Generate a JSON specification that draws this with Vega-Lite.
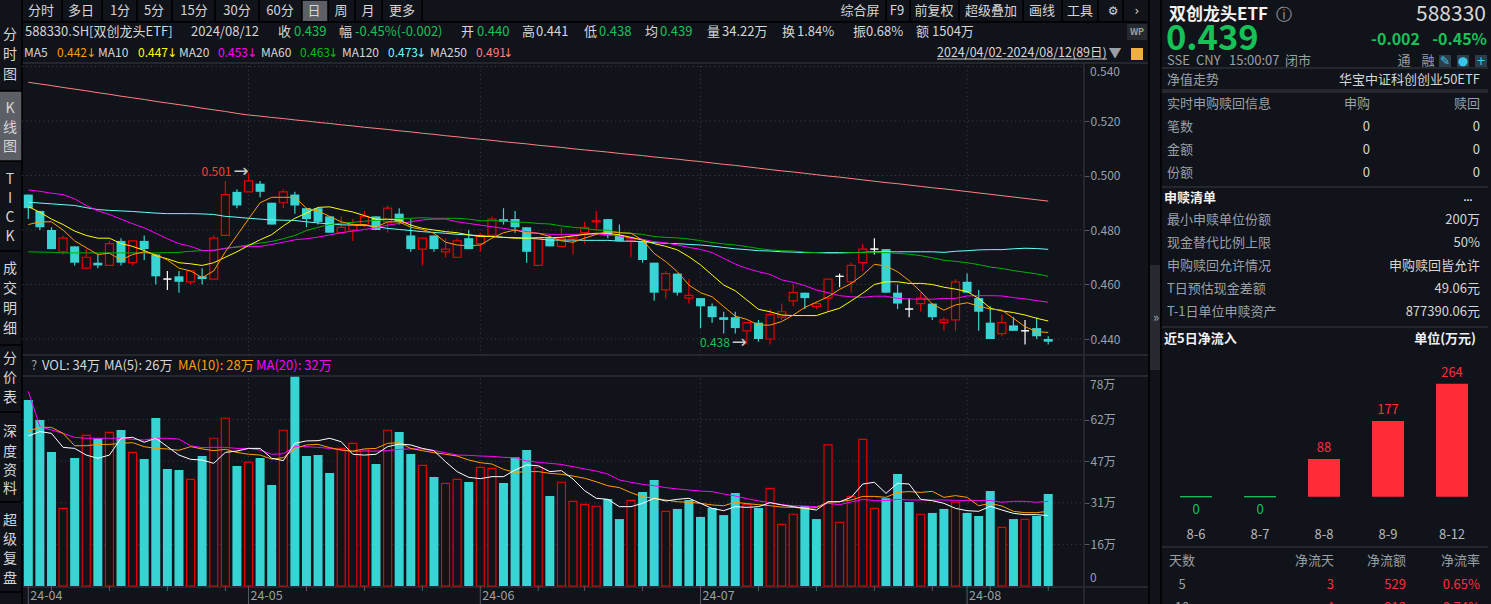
{
"$schema":"https://vega.github.io/schema/vega-lite/v6.json",
"description":"588330 daily K-line terminal view",
"width":1491,"height":604,"padding":0,"autosize":{"type":"none"},
"background":"#10131a",
"config":{"view":{"stroke":null},"text":{"font":"Noto Sans CJK SC","baseline":"middle"},"axis":{"labelFont":"Noto Sans CJK SC"}},
"datasets":{
"days":[
{"d":0,"open":0.493,"close":0.488,"high":0.493,"low":0.484,"kind":"down","ma5":0.482,"ma10":0.4886,"ma20":0.4947,"ma60":0.472,"ma120":0.4902,"ma250":0.5342,"vol":69.75,"volKind":"down","v5":56.25,"v10":58.1,"v20":73},
{"d":1,"open":0.487,"close":0.481,"high":0.487,"low":0.48,"kind":"down","ma5":0.483,"ma10":0.4865,"ma20":0.4942,"ma60":0.4719,"ma120":0.4899,"ma250":0.5336,"vol":62.25,"volKind":"down","v5":57.9,"v10":59.5,"v20":59.75},
{"d":2,"open":0.48,"close":0.473,"high":0.481,"low":0.473,"kind":"down","ma5":0.483,"ma10":0.484,"ma20":0.4935,"ma60":0.4718,"ma120":0.4896,"ma250":0.533,"vol":50.25,"volKind":"down","v5":57.25,"v10":59.5,"v20":58.5},
{"d":3,"open":0.472,"close":0.477,"high":0.478,"low":0.471,"kind":"up","ma5":0.48,"ma10":0.482,"ma20":0.493,"ma60":0.4716,"ma120":0.4893,"ma250":0.5323,"vol":29.1,"volKind":"up","v5":52,"v10":57.25,"v20":57.25},
{"d":4,"open":0.474,"close":0.468,"high":0.474,"low":0.467,"kind":"down","ma5":0.476,"ma10":0.4796,"ma20":0.4914,"ma60":0.4716,"ma120":0.489,"ma250":0.5317,"vol":48,"volKind":"down","v5":51.6,"v10":52.6,"v20":55.75},
{"d":5,"open":0.466,"close":0.47,"high":0.473,"low":0.466,"kind":"up","ma5":0.4735,"ma10":0.478,"ma20":0.489,"ma60":0.4716,"ma120":0.4882,"ma250":0.5311,"vol":56.5,"volKind":"up","v5":49.1,"v10":52.6,"v20":55.4},
{"d":6,"open":0.468,"close":0.467,"high":0.471,"low":0.466,"kind":"down","ma5":0.471,"ma10":0.477,"ma20":0.487,"ma60":0.4716,"ma120":0.4875,"ma250":0.5304,"vol":55.4,"volKind":"down","v5":47.9,"v10":53.1,"v20":55.4},
{"d":7,"open":0.467,"close":0.475,"high":0.476,"low":0.467,"kind":"up","ma5":0.4715,"ma10":0.477,"ma20":0.4857,"ma60":0.4716,"ma120":0.4872,"ma250":0.5298,"vol":57.6,"volKind":"up","v5":49.1,"v10":53.1,"v20":55.4},
{"d":8,"open":0.476,"close":0.468,"high":0.477,"low":0.467,"kind":"down","ma5":0.469,"ma10":0.475,"ma20":0.484,"ma60":0.4716,"ma120":0.487,"ma250":0.5291,"vol":58.5,"volKind":"down","v5":55.4,"v10":53.5,"v20":55.4},
{"d":9,"open":0.468,"close":0.476,"high":0.476,"low":0.467,"kind":"up","ma5":0.471,"ma10":0.474,"ma20":0.4823,"ma60":0.4716,"ma120":0.4868,"ma250":0.5285,"vol":50.1,"volKind":"up","v5":55.75,"v10":53.75,"v20":55},
{"d":10,"open":0.476,"close":0.473,"high":0.478,"low":0.469,"kind":"down","ma5":0.472,"ma10":0.4725,"ma20":0.4808,"ma60":0.4716,"ma120":0.4865,"ma250":0.5279,"vol":47.6,"volKind":"down","v5":53.9,"v10":52.25,"v20":54.75},
{"d":11,"open":0.471,"close":0.463,"high":0.471,"low":0.46,"kind":"down","ma5":0.471,"ma10":0.4706,"ma20":0.4788,"ma60":0.4716,"ma120":0.4862,"ma250":0.5272,"vol":63,"volKind":"down","v5":55.4,"v10":51.6,"v20":55.4},
{"d":12,"open":0.462,"close":0.462,"high":0.465,"low":0.458,"kind":"flat","ma5":0.469,"ma10":0.4694,"ma20":0.4768,"ma60":0.4717,"ma120":0.486,"ma250":0.5266,"vol":43.9,"volKind":"down","v5":52.25,"v10":51.4,"v20":55.4},
{"d":13,"open":0.463,"close":0.461,"high":0.465,"low":0.457,"kind":"down","ma5":0.466,"ma10":0.468,"ma20":0.475,"ma60":0.4718,"ma120":0.486,"ma250":0.526,"vol":43.5,"volKind":"down","v5":49.1,"v10":50.9,"v20":55.1},
{"d":14,"open":0.461,"close":0.465,"high":0.465,"low":0.46,"kind":"up","ma5":0.465,"ma10":0.4676,"ma20":0.474,"ma60":0.4722,"ma120":0.486,"ma250":0.5254,"vol":40,"volKind":"up","v5":47.5,"v10":52.25,"v20":52.6},
{"d":15,"open":0.463,"close":0.462,"high":0.466,"low":0.46,"kind":"down","ma5":0.4625,"ma10":0.467,"ma20":0.4725,"ma60":0.4724,"ma120":0.4859,"ma250":0.5247,"vol":48.75,"volKind":"down","v5":47.25,"v10":51.4,"v20":51.9},
{"d":16,"open":0.462,"close":0.477,"high":0.478,"low":0.462,"kind":"up","ma5":0.465,"ma10":0.468,"ma20":0.4725,"ma60":0.4726,"ma120":0.4857,"ma250":0.5241,"vol":55.4,"volKind":"up","v5":46,"v10":50.75,"v20":52},
{"d":17,"open":0.478,"close":0.493,"high":0.498,"low":0.478,"kind":"up","ma5":0.472,"ma10":0.47,"ma20":0.4733,"ma60":0.4732,"ma120":0.485,"ma250":0.5235,"vol":62.9,"volKind":"up","v5":50.1,"v10":51.25,"v20":52},
{"d":18,"open":0.494,"close":0.489,"high":0.495,"low":0.488,"kind":"down","ma5":0.478,"ma10":0.472,"ma20":0.4737,"ma60":0.4739,"ma120":0.4847,"ma250":0.5228,"vol":45,"volKind":"down","v5":50.6,"v10":50.1,"v20":51.6},
{"d":19,"open":0.494,"close":0.498,"high":0.501,"low":0.494,"kind":"up","ma5":0.484,"ma10":0.4743,"ma20":0.474,"ma60":0.4745,"ma120":0.4843,"ma250":0.5222,"vol":46.4,"volKind":"up","v5":51.6,"v10":49.4,"v20":51.6},
{"d":20,"open":0.497,"close":0.494,"high":0.498,"low":0.492,"kind":"down","ma5":0.49,"ma10":0.4764,"ma20":0.474,"ma60":0.4752,"ma120":0.484,"ma250":0.5218,"vol":48,"volKind":"down","v5":51.6,"v10":49.1,"v20":51},
{"d":21,"open":0.49,"close":0.482,"high":0.49,"low":0.482,"kind":"down","ma5":0.492,"ma10":0.4783,"ma20":0.4747,"ma60":0.4758,"ma120":0.4837,"ma250":0.5213,"vol":37.9,"volKind":"down","v5":47.9,"v10":47.6,"v20":49.4},
{"d":22,"open":0.49,"close":0.494,"high":0.495,"low":0.488,"kind":"up","ma5":0.492,"ma10":0.4815,"ma20":0.4755,"ma60":0.4768,"ma120":0.4836,"ma250":0.5209,"vol":58.4,"volKind":"up","v5":47,"v10":48.1,"v20":49.6},
{"d":23,"open":0.493,"close":0.489,"high":0.494,"low":0.486,"kind":"down","ma5":0.492,"ma10":0.4843,"ma20":0.4764,"ma60":0.478,"ma120":0.4835,"ma250":0.5204,"vol":78.5,"volKind":"down","v5":53.5,"v10":51.6,"v20":52.25},
{"d":24,"open":0.488,"close":0.484,"high":0.488,"low":0.481,"kind":"down","ma5":0.488,"ma10":0.4862,"ma20":0.4768,"ma60":0.4798,"ma120":0.483,"ma250":0.52,"vol":48.75,"volKind":"down","v5":54.4,"v10":52.9,"v20":52.25},
{"d":25,"open":0.488,"close":0.483,"high":0.488,"low":0.482,"kind":"down","ma5":0.487,"ma10":0.4883,"ma20":0.4774,"ma60":0.481,"ma120":0.4826,"ma250":0.5195,"vol":49.1,"volKind":"down","v5":54.5,"v10":53.1,"v20":52},
{"d":26,"open":0.485,"close":0.479,"high":0.485,"low":0.479,"kind":"down","ma5":0.485,"ma10":0.4885,"ma20":0.4782,"ma60":0.482,"ma120":0.4822,"ma250":0.5191,"vol":42.4,"volKind":"down","v5":55.4,"v10":51.9,"v20":51.6},
{"d":27,"open":0.479,"close":0.481,"high":0.485,"low":0.479,"kind":"up","ma5":0.483,"ma10":0.4875,"ma20":0.479,"ma60":0.4825,"ma120":0.4819,"ma250":0.5186,"vol":51.6,"volKind":"up","v5":54.1,"v10":51,"v20":51},
{"d":28,"open":0.48,"close":0.482,"high":0.484,"low":0.476,"kind":"up","ma5":0.482,"ma10":0.4866,"ma20":0.4796,"ma60":0.4828,"ma120":0.4818,"ma250":0.5182,"vol":53.5,"volKind":"up","v5":49.4,"v10":50.6,"v20":50.4},
{"d":29,"open":0.482,"close":0.485,"high":0.487,"low":0.481,"kind":"up","ma5":0.482,"ma10":0.4853,"ma20":0.4802,"ma60":0.4832,"ma120":0.4817,"ma250":0.5177,"vol":51,"volKind":"up","v5":49.1,"v10":51.4,"v20":50.6},
{"d":30,"open":0.485,"close":0.48,"high":0.485,"low":0.48,"kind":"down","ma5":0.481,"ma10":0.4839,"ma20":0.4808,"ma60":0.4835,"ma120":0.4812,"ma250":0.5173,"vol":45.75,"volKind":"down","v5":49.4,"v10":51.6,"v20":50.6},
{"d":31,"open":0.483,"close":0.488,"high":0.489,"low":0.479,"kind":"up","ma5":0.483,"ma10":0.484,"ma20":0.4818,"ma60":0.4838,"ma120":0.4806,"ma250":0.5169,"vol":58.4,"volKind":"up","v5":52.25,"v10":53.5,"v20":50.75},
{"d":32,"open":0.486,"close":0.483,"high":0.488,"low":0.482,"kind":"down","ma5":0.483,"ma10":0.4836,"ma20":0.4824,"ma60":0.4842,"ma120":0.4802,"ma250":0.5164,"vol":57.75,"volKind":"down","v5":53.25,"v10":53.75,"v20":51.25},
{"d":33,"open":0.478,"close":0.473,"high":0.484,"low":0.472,"kind":"down","ma5":0.481,"ma10":0.4818,"ma20":0.483,"ma60":0.4843,"ma120":0.4798,"ma250":0.516,"vol":49.5,"volKind":"down","v5":52.9,"v10":51.6,"v20":51.4},
{"d":34,"open":0.473,"close":0.477,"high":0.477,"low":0.467,"kind":"up","ma5":0.4802,"ma10":0.4806,"ma20":0.4837,"ma60":0.4845,"ma120":0.4794,"ma250":0.5155,"vol":45.25,"volKind":"up","v5":51.6,"v10":50.75,"v20":51.4},
{"d":35,"open":0.478,"close":0.473,"high":0.478,"low":0.472,"kind":"down","ma5":0.4788,"ma10":0.48,"ma20":0.484,"ma60":0.4843,"ma120":0.4791,"ma250":0.5151,"vol":40.9,"volKind":"down","v5":50.75,"v10":50,"v20":50.75},
{"d":36,"open":0.472,"close":0.473,"high":0.477,"low":0.47,"kind":"up","ma5":0.4755,"ma10":0.4794,"ma20":0.484,"ma60":0.4843,"ma120":0.4788,"ma250":0.5146,"vol":38.5,"volKind":"up","v5":46.6,"v10":49.4,"v20":50},
{"d":37,"open":0.47,"close":0.476,"high":0.477,"low":0.47,"kind":"up","ma5":0.4745,"ma10":0.479,"ma20":0.483,"ma60":0.4843,"ma120":0.4784,"ma250":0.5142,"vol":40,"volKind":"up","v5":42.9,"v10":48.75,"v20":49.1},
{"d":38,"open":0.477,"close":0.473,"high":0.48,"low":0.473,"kind":"down","ma5":0.4742,"ma10":0.4782,"ma20":0.4824,"ma60":0.484,"ma120":0.4782,"ma250":0.5137,"vol":39,"volKind":"down","v5":40.75,"v10":47.25,"v20":49},
{"d":39,"open":0.475,"close":0.478,"high":0.479,"low":0.472,"kind":"up","ma5":0.4745,"ma10":0.4776,"ma20":0.4818,"ma60":0.4834,"ma120":0.4779,"ma250":0.5133,"vol":44.5,"volKind":"up","v5":40.25,"v10":46.25,"v20":48.75},
{"d":40,"open":0.478,"close":0.484,"high":0.485,"low":0.478,"kind":"up","ma5":0.477,"ma10":0.4776,"ma20":0.4812,"ma60":0.4834,"ma120":0.4776,"ma250":0.5129,"vol":44.1,"volKind":"up","v5":41,"v10":45.75,"v20":48.6},
{"d":41,"open":0.484,"close":0.483,"high":0.488,"low":0.482,"kind":"down","ma5":0.479,"ma10":0.4773,"ma20":0.4806,"ma60":0.4833,"ma120":0.4773,"ma250":0.5124,"vol":38.6,"volKind":"down","v5":41,"v10":43.75,"v20":48.25},
{"d":42,"open":0.484,"close":0.481,"high":0.487,"low":0.479,"kind":"down","ma5":0.48,"ma10":0.477,"ma20":0.48,"ma60":0.4829,"ma120":0.4772,"ma250":0.512,"vol":48.25,"volKind":"down","v5":43.5,"v10":42.6,"v20":48.1},
{"d":43,"open":0.481,"close":0.472,"high":0.481,"low":0.468,"kind":"down","ma5":0.479,"ma10":0.477,"ma20":0.4794,"ma60":0.4828,"ma120":0.477,"ma250":0.5116,"vol":51,"volKind":"down","v5":45.4,"v10":42.9,"v20":46.9},
{"d":44,"open":0.467,"close":0.477,"high":0.477,"low":0.467,"kind":"up","ma5":0.4788,"ma10":0.4772,"ma20":0.4788,"ma60":0.4824,"ma120":0.4767,"ma250":0.5111,"vol":44.5,"volKind":"up","v5":45.1,"v10":42.9,"v20":46.4},
{"d":45,"open":0.477,"close":0.474,"high":0.478,"low":0.474,"kind":"down","ma5":0.4776,"ma10":0.4772,"ma20":0.4784,"ma60":0.4822,"ma120":0.4763,"ma250":0.5107,"vol":33.75,"volKind":"down","v5":42.9,"v10":42.25,"v20":46},
{"d":46,"open":0.474,"close":0.477,"high":0.481,"low":0.474,"kind":"up","ma5":0.476,"ma10":0.4773,"ma20":0.4784,"ma60":0.4815,"ma120":0.4763,"ma250":0.5103,"vol":38.9,"volKind":"up","v5":43.25,"v10":41.9,"v20":45.6},
{"d":47,"open":0.477,"close":0.478,"high":0.478,"low":0.471,"kind":"up","ma5":0.4755,"ma10":0.4778,"ma20":0.4784,"ma60":0.481,"ma120":0.4763,"ma250":0.5098,"vol":31.75,"volKind":"up","v5":40.1,"v10":41.25,"v20":44.75},
{"d":48,"open":0.479,"close":0.481,"high":0.483,"low":0.475,"kind":"up","ma5":0.477,"ma10":0.4784,"ma20":0.4785,"ma60":0.4806,"ma120":0.4762,"ma250":0.5094,"vol":30.6,"volKind":"up","v5":35.75,"v10":40.4,"v20":43.9},
{"d":49,"open":0.483,"close":0.4834,"high":0.487,"low":0.48,"kind":"up","ma5":0.4784,"ma10":0.4788,"ma20":0.4785,"ma60":0.48,"ma120":0.4762,"ma250":0.509,"vol":29.9,"volKind":"up","v5":32.9,"v10":39.1,"v20":43.1},
{"d":50,"open":0.484,"close":0.478,"high":0.484,"low":0.477,"kind":"down","ma5":0.4794,"ma10":0.4788,"ma20":0.4783,"ma60":0.4799,"ma120":0.4762,"ma250":0.5086,"vol":32.6,"volKind":"down","v5":32.5,"v10":37.6,"v20":42},
{"d":51,"open":0.478,"close":0.476,"high":0.482,"low":0.476,"kind":"down","ma5":0.479,"ma10":0.4782,"ma20":0.4778,"ma60":0.4791,"ma120":0.4759,"ma250":0.5081,"vol":25.1,"volKind":"down","v5":29.75,"v10":36.9,"v20":39.75},
{"d":52,"open":0.476,"close":0.477,"high":0.477,"low":0.47,"kind":"up","ma5":0.4788,"ma10":0.4773,"ma20":0.477,"ma60":0.4788,"ma120":0.4759,"ma250":0.5077,"vol":32.1,"volKind":"up","v5":29.75,"v10":35,"v20":38.9},
{"d":53,"open":0.476,"close":0.469,"high":0.476,"low":0.468,"kind":"down","ma5":0.4763,"ma10":0.4763,"ma20":0.4766,"ma60":0.4784,"ma120":0.4757,"ma250":0.5073,"vol":35.25,"volKind":"down","v5":31,"v10":33.5,"v20":38.1},
{"d":54,"open":0.468,"close":0.457,"high":0.468,"low":0.454,"kind":"down","ma5":0.4714,"ma10":0.475,"ma20":0.4757,"ma60":0.4776,"ma120":0.4754,"ma250":0.5068,"vol":39.75,"volKind":"down","v5":32.9,"v10":32.9,"v20":37.6},
{"d":55,"open":0.458,"close":0.464,"high":0.465,"low":0.455,"kind":"up","ma5":0.4684,"ma10":0.474,"ma20":0.4753,"ma60":0.4773,"ma120":0.4751,"ma250":0.5064,"vol":28,"volKind":"up","v5":31.9,"v10":32.25,"v20":36.9},
{"d":56,"open":0.464,"close":0.457,"high":0.464,"low":0.456,"kind":"down","ma5":0.4647,"ma10":0.4727,"ma20":0.4745,"ma60":0.4771,"ma120":0.475,"ma250":0.506,"vol":28.9,"volKind":"down","v5":32.5,"v10":31.6,"v20":36.4},
{"d":57,"open":0.455,"close":0.456,"high":0.462,"low":0.453,"kind":"up","ma5":0.4598,"ma10":0.4702,"ma20":0.4736,"ma60":0.4767,"ma120":0.4747,"ma250":0.5055,"vol":32.25,"volKind":"down","v5":32.9,"v10":31.4,"v20":36},
{"d":58,"open":0.455,"close":0.452,"high":0.455,"low":0.444,"kind":"down","ma5":0.457,"ma10":0.4672,"ma20":0.4729,"ma60":0.4761,"ma120":0.4745,"ma250":0.5051,"vol":25.9,"volKind":"down","v5":31,"v10":31,"v20":35.6},
{"d":59,"open":0.452,"close":0.448,"high":0.453,"low":0.446,"kind":"down","ma5":0.4555,"ma10":0.4635,"ma20":0.4717,"ma60":0.4754,"ma120":0.4741,"ma250":0.5046,"vol":29.25,"volKind":"down","v5":29.1,"v10":30.4,"v20":35.4},
{"d":60,"open":0.448,"close":0.447,"high":0.45,"low":0.442,"kind":"down","ma5":0.4519,"ma10":0.4598,"ma20":0.4696,"ma60":0.4749,"ma120":0.4736,"ma250":0.5041,"vol":26.6,"volKind":"down","v5":28.25,"v10":30.1,"v20":34.5},
{"d":61,"open":0.448,"close":0.444,"high":0.45,"low":0.442,"kind":"down","ma5":0.4484,"ma10":0.4577,"ma20":0.4675,"ma60":0.4745,"ma120":0.4731,"ma250":0.5037,"vol":34.9,"volKind":"down","v5":29.75,"v10":31.4,"v20":33.75},
{"d":62,"open":0.443,"close":0.446,"high":0.446,"low":0.438,"kind":"up","ma5":0.4472,"ma10":0.4543,"ma20":0.4659,"ma60":0.4739,"ma120":0.4728,"ma250":0.5032,"vol":30.6,"volKind":"up","v5":29.5,"v10":30.9,"v20":32.75},
{"d":63,"open":0.446,"close":0.44,"high":0.447,"low":0.439,"kind":"down","ma5":0.4451,"ma10":0.4509,"ma20":0.4647,"ma60":0.4732,"ma120":0.4724,"ma250":0.5027,"vol":29.25,"volKind":"down","v5":29.75,"v10":30.5,"v20":31.9},
{"d":64,"open":0.44,"close":0.449,"high":0.451,"low":0.438,"kind":"up","ma5":0.4451,"ma10":0.45,"ma20":0.4637,"ma60":0.4727,"ma120":0.4723,"ma250":0.5022,"vol":36.6,"volKind":"up","v5":31.25,"v10":30.1,"v20":31.25},
{"d":65,"open":0.448,"close":0.45,"high":0.453,"low":0.447,"kind":"up","ma5":0.4464,"ma10":0.4488,"ma20":0.4617,"ma60":0.4724,"ma120":0.472,"ma250":0.5017,"vol":23.1,"volKind":"up","v5":30.4,"v10":29.6,"v20":30.5},
{"d":66,"open":0.454,"close":0.457,"high":0.46,"low":0.452,"kind":"up","ma5":0.4488,"ma10":0.4486,"ma20":0.4608,"ma60":0.4723,"ma120":0.4719,"ma250":0.5013,"vol":26.9,"volKind":"up","v5":29.75,"v10":29.5,"v20":30.1},
{"d":67,"open":0.457,"close":0.455,"high":0.457,"low":0.451,"kind":"down","ma5":0.4516,"ma10":0.4486,"ma20":0.4596,"ma60":0.4719,"ma120":0.4717,"ma250":0.5008,"vol":30,"volKind":"down","v5":29.1,"v10":29.1,"v20":30},
{"d":68,"open":0.452,"close":0.453,"high":0.454,"low":0.451,"kind":"up","ma5":0.4535,"ma10":0.4486,"ma20":0.458,"ma60":0.4717,"ma120":0.4717,"ma250":0.5003,"vol":25.1,"volKind":"down","v5":28.5,"v10":29.4,"v20":29.75},
{"d":69,"open":0.455,"close":0.462,"high":0.462,"low":0.45,"kind":"up","ma5":0.4555,"ma10":0.45,"ma20":0.457,"ma60":0.4714,"ma120":0.4717,"ma250":0.4998,"vol":52.9,"volKind":"up","v5":31.6,"v10":31.5,"v20":31},
{"d":70,"open":0.463,"close":0.463,"high":0.464,"low":0.459,"kind":"flat","ma5":0.4582,"ma10":0.4513,"ma20":0.4559,"ma60":0.4714,"ma120":0.4717,"ma250":0.4994,"vol":23.9,"volKind":"up","v5":31.6,"v10":31.6,"v20":30.5},
{"d":71,"open":0.461,"close":0.467,"high":0.468,"low":0.457,"kind":"up","ma5":0.4604,"ma10":0.454,"ma20":0.4555,"ma60":0.4717,"ma120":0.4717,"ma250":0.4989,"vol":33.6,"volKind":"up","v5":33.25,"v10":32.25,"v20":31.5},
{"d":72,"open":0.468,"close":0.473,"high":0.475,"low":0.465,"kind":"up","ma5":0.4635,"ma10":0.4568,"ma20":0.4553,"ma60":0.4717,"ma120":0.4718,"ma250":0.4984,"vol":55,"volKind":"up","v5":38.25,"v10":33.6,"v20":32.5},
{"d":73,"open":0.473,"close":0.473,"high":0.477,"low":0.471,"kind":"flat","ma5":0.4674,"ma10":0.46,"ma20":0.4557,"ma60":0.4718,"ma120":0.472,"ma250":0.4979,"vol":29.1,"volKind":"up","v5":38.9,"v10":33.6,"v20":32},
{"d":74,"open":0.473,"close":0.457,"high":0.473,"low":0.457,"kind":"down","ma5":0.4668,"ma10":0.461,"ma20":0.4557,"ma60":0.4717,"ma120":0.472,"ma250":0.4974,"vol":32.9,"volKind":"down","v5":34.75,"v10":33.25,"v20":32},
{"d":75,"open":0.457,"close":0.453,"high":0.46,"low":0.451,"kind":"down","ma5":0.4647,"ma10":0.461,"ma20":0.4549,"ma60":0.4714,"ma120":0.472,"ma250":0.497,"vol":42,"volKind":"down","v5":38.5,"v10":35.1,"v20":32.5},
{"d":76,"open":0.451,"close":0.451,"high":0.455,"low":0.448,"kind":"flat","ma5":0.4614,"ma10":0.4604,"ma20":0.4547,"ma60":0.4711,"ma120":0.472,"ma250":0.4965,"vol":31.5,"volKind":"down","v5":38.25,"v10":35.4,"v20":32.25},
{"d":77,"open":0.453,"close":0.455,"high":0.457,"low":0.45,"kind":"up","ma5":0.4574,"ma10":0.4604,"ma20":0.4546,"ma60":0.4706,"ma120":0.472,"ma250":0.496,"vol":26.9,"volKind":"up","v5":32.5,"v10":35.1,"v20":32.25},
{"d":78,"open":0.453,"close":0.448,"high":0.453,"low":0.447,"kind":"down","ma5":0.4528,"ma10":0.46,"ma20":0.4546,"ma60":0.4698,"ma120":0.472,"ma250":0.4955,"vol":27.4,"volKind":"down","v5":32,"v10":35.5,"v20":32.25},
{"d":79,"open":0.446,"close":0.447,"high":0.448,"low":0.443,"kind":"up","ma5":0.4506,"ma10":0.459,"ma20":0.4549,"ma60":0.4689,"ma120":0.4718,"ma250":0.4951,"vol":28.9,"volKind":"down","v5":31,"v10":33.25,"v20":32.25},
{"d":80,"open":0.447,"close":0.461,"high":0.462,"low":0.443,"kind":"up","ma5":0.4525,"ma10":0.4583,"ma20":0.4549,"ma60":0.4685,"ma120":0.4722,"ma250":0.4946,"vol":31.4,"volKind":"up","v5":29.1,"v10":33.9,"v20":32.1},
{"d":81,"open":0.461,"close":0.457,"high":0.464,"low":0.457,"kind":"down","ma5":0.4533,"ma10":0.4574,"ma20":0.4558,"ma60":0.468,"ma120":0.4724,"ma250":0.4941,"vol":27.4,"volKind":"down","v5":28.25,"v10":33.25,"v20":32.1},
{"d":82,"open":0.455,"close":0.45,"high":0.458,"low":0.443,"kind":"down","ma5":0.4521,"ma10":0.4549,"ma20":0.4559,"ma60":0.4673,"ma120":0.4727,"ma250":0.4936,"vol":26.25,"volKind":"down","v5":28,"v10":30.1,"v20":32.1},
{"d":83,"open":0.446,"close":0.44,"high":0.452,"low":0.44,"kind":"down","ma5":0.451,"ma10":0.4513,"ma20":0.4559,"ma60":0.4664,"ma120":0.4728,"ma250":0.4931,"vol":35.6,"volKind":"down","v5":29.9,"v10":31,"v20":32.1},
{"d":84,"open":0.442,"close":0.446,"high":0.449,"low":0.441,"kind":"up","ma5":0.4506,"ma10":0.4503,"ma20":0.4558,"ma60":0.4659,"ma120":0.4728,"ma250":0.4926,"vol":22,"volKind":"up","v5":28.5,"v10":30,"v20":31.4},
{"d":85,"open":0.445,"close":0.443,"high":0.448,"low":0.443,"kind":"down","ma5":0.4476,"ma10":0.4497,"ma20":0.4552,"ma60":0.4651,"ma120":0.4731,"ma250":0.4921,"vol":25.1,"volKind":"down","v5":27.25,"v10":28,"v20":31.75},
{"d":86,"open":0.443,"close":0.443,"high":0.447,"low":0.438,"kind":"flat","ma5":0.4445,"ma10":0.4488,"ma20":0.4547,"ma60":0.4645,"ma120":0.4733,"ma250":0.4916,"vol":25,"volKind":"up","v5":26.75,"v10":27.5,"v20":31.75},
{"d":87,"open":0.444,"close":0.441,"high":0.448,"low":0.44,"kind":"down","ma5":0.4427,"ma10":0.4476,"ma20":0.4541,"ma60":0.4639,"ma120":0.4732,"ma250":0.4911,"vol":26.25,"volKind":"down","v5":26.75,"v10":27.5,"v20":31.4},
{"d":88,"open":0.44,"close":0.439,"high":0.441,"low":0.438,"kind":"down","ma5":0.4424,"ma10":0.4466,"ma20":0.4535,"ma60":0.463,"ma120":0.4729,"ma250":0.4906,"vol":34.5,"volKind":"down","v5":26.4,"v10":28,"v20":31.75}
],
"labels":[
{"g":"side","c":0,"r":0,"t":"分","k":"label"},{"g":"side","c":0,"r":1,"t":"时","k":"label"},{"g":"side","c":0,"r":2,"t":"图","k":"label"},
{"g":"side","c":0,"r":3,"t":"K","k":"label"},{"g":"side","c":0,"r":4,"t":"线","k":"label"},{"g":"side","c":0,"r":5,"t":"图","k":"label"},
{"g":"side","c":0,"r":6,"t":"T","k":"label"},{"g":"side","c":0,"r":7,"t":"I","k":"label"},{"g":"side","c":0,"r":8,"t":"C","k":"label"},{"g":"side","c":0,"r":9,"t":"K","k":"label"},
{"g":"side","c":0,"r":10,"t":"成","k":"label"},{"g":"side","c":0,"r":11,"t":"交","k":"label"},{"g":"side","c":0,"r":12,"t":"明","k":"label"},{"g":"side","c":0,"r":13,"t":"细","k":"label"},
{"g":"side","c":0,"r":14,"t":"分","k":"label"},{"g":"side","c":0,"r":15,"t":"价","k":"label"},{"g":"side","c":0,"r":16,"t":"表","k":"label"},
{"g":"side","c":0,"r":17,"t":"深","k":"label"},{"g":"side","c":0,"r":18,"t":"度","k":"label"},{"g":"side","c":0,"r":19,"t":"资","k":"label"},{"g":"side","c":0,"r":20,"t":"料","k":"label"},
{"g":"side","c":0,"r":21,"t":"超","k":"label"},{"g":"side","c":0,"r":22,"t":"级","k":"label"},{"g":"side","c":0,"r":23,"t":"复","k":"label"},{"g":"side","c":0,"r":24,"t":"盘","k":"label"},
{"g":"tab","c":1,"r":25,"t":"分时","k":"label"},{"g":"tab","c":2,"r":25,"t":"多日","k":"label"},{"g":"tab","c":3,"r":25,"t":"1分","k":"label"},{"g":"tab","c":4,"r":25,"t":"5分","k":"label"},{"g":"tab","c":5,"r":25,"t":"15分","k":"label"},{"g":"tab","c":6,"r":25,"t":"30分","k":"label"},{"g":"tab","c":7,"r":25,"t":"60分","k":"label"},{"g":"tab","c":8,"r":25,"t":"日","k":"label"},{"g":"tab","c":9,"r":25,"t":"周","k":"label"},{"g":"tab","c":10,"r":25,"t":"月","k":"label"},{"g":"tab","c":11,"r":25,"t":"更多","k":"label"},
{"g":"tab","c":12,"r":25,"t":"综合屏","k":"label"},{"g":"tab","c":13,"r":25,"t":"F9","k":"label"},{"g":"tab","c":14,"r":25,"t":"前复权","k":"label"},{"g":"tab","c":15,"r":25,"t":"超级叠加","k":"label"},{"g":"tab","c":16,"r":25,"t":"画线","k":"label"},{"g":"tab","c":17,"r":25,"t":"工具","k":"label"},{"g":"arrow","c":18,"r":25,"t":"⚙","k":"label"},{"g":"arrow","c":19,"r":25,"t":"›","k":"label"},
{"g":"line","c":20,"r":26,"t":"588330.SH[双创龙头ETF]","k":"label"},{"g":"line","c":21,"r":26,"t":"2024/08/12","k":"label"},{"g":"line","c":22,"r":26,"t":"收","k":"label"},{"g":"line","c":23,"r":26,"t":"0.439","k":"down"},{"g":"line","c":24,"r":26,"t":"幅","k":"label"},{"g":"line","c":25,"r":26,"t":"-0.45%(-0.002)","k":"down"},{"g":"line","c":26,"r":26,"t":"开","k":"label"},{"g":"line","c":27,"r":26,"t":"0.440","k":"down"},{"g":"line","c":28,"r":26,"t":"高","k":"label"},{"g":"line","c":29,"r":26,"t":"0.441","k":"label"},{"g":"line","c":30,"r":26,"t":"低","k":"label"},{"g":"line","c":31,"r":26,"t":"0.438","k":"down"},{"g":"line","c":32,"r":26,"t":"均","k":"label"},{"g":"line","c":33,"r":26,"t":"0.439","k":"down"},{"g":"line","c":34,"r":26,"t":"量","k":"label"},{"g":"line","c":35,"r":26,"t":"34.22万","k":"label"},{"g":"line","c":36,"r":26,"t":"换","k":"label"},{"g":"line","c":37,"r":26,"t":"1.84%","k":"label"},{"g":"line","c":38,"r":26,"t":"振","k":"label"},{"g":"line","c":39,"r":26,"t":"0.68%","k":"label"},{"g":"line","c":40,"r":26,"t":"额","k":"label"},{"g":"line","c":41,"r":26,"t":"1504万","k":"label"},
{"g":"mav","c":42,"r":27,"t":"MA5","k":"label"},{"g":"mav","c":43,"r":27,"t":"0.442","k":"ma5"},{"g":"arrow","c":86,"r":27,"t":"↓","k":"ma5"},{"g":"mav","c":44,"r":27,"t":"MA10","k":"label"},{"g":"mav","c":45,"r":27,"t":"0.447","k":"ma10"},{"g":"arrow","c":87,"r":27,"t":"↓","k":"ma10"},{"g":"mav","c":46,"r":27,"t":"MA20","k":"label"},{"g":"mav","c":47,"r":27,"t":"0.453","k":"ma20"},{"g":"arrow","c":88,"r":27,"t":"↓","k":"ma20"},{"g":"mav","c":48,"r":27,"t":"MA60","k":"label"},{"g":"mav","c":49,"r":27,"t":"0.463","k":"ma60"},{"g":"arrow","c":89,"r":27,"t":"↓","k":"ma60"},{"g":"mav","c":50,"r":27,"t":"MA120","k":"label"},{"g":"mav","c":51,"r":27,"t":"0.473","k":"ma120"},{"g":"arrow","c":90,"r":27,"t":"↓","k":"ma120"},{"g":"mav","c":52,"r":27,"t":"MA250","k":"label"},{"g":"mav","c":53,"r":27,"t":"0.491","k":"ma250"},{"g":"arrow","c":91,"r":27,"t":"↓","k":"ma250"},
{"g":"range","c":54,"r":27,"t":"2024/04/02-2024/08/12(89日)","k":"label"},{"g":"tab","c":55,"r":27,"t":"▼","k":"muted"},{"g":"small","c":19,"r":26,"t":"WP","k":"muted"},
{"g":"line","c":56,"r":28,"t":"?","k":"muted"},{"g":"line","c":57,"r":28,"t":"VOL: 34万","k":"label"},{"g":"line","c":58,"r":28,"t":"MA(5): 26万","k":"label"},{"g":"line","c":59,"r":28,"t":"MA(10): 28万","k":"ma5"},{"g":"line","c":60,"r":28,"t":"MA(20): 32万","k":"ma20"},
{"g":"title","c":61,"r":29,"t":"双创龙头ETF","k":"bright"},{"g":"info","c":62,"r":29,"t":"ⓘ","k":"muted"},{"g":"code","c":63,"r":29,"t":"588330","k":"label"},
{"g":"big","c":64,"r":30,"t":"0.439","k":"down"},{"g":"quote","c":65,"r":30,"t":"-0.002","k":"down"},{"g":"quote","c":66,"r":30,"t":"-0.45%","k":"down"},
{"g":"line","c":67,"r":31,"t":"SSE","k":"muted"},{"g":"line","c":68,"r":31,"t":"CNY","k":"muted"},{"g":"line","c":69,"r":31,"t":"15:00:07","k":"muted"},{"g":"line","c":70,"r":31,"t":"闭市","k":"muted"},{"g":"tab","c":71,"r":31,"t":"通","k":"muted"},{"g":"tab","c":72,"r":31,"t":"融","k":"muted"},{"g":"arrow","c":73,"r":31,"t":"✎","k":"tool"},{"g":"arrow","c":74,"r":31,"t":"●","k":"tool"},{"g":"arrow","c":75,"r":31,"t":"+","k":"tool"},
{"g":"line","c":67,"r":32,"t":"净值走势","k":"muted"},{"g":"rval","c":76,"r":32,"t":"华宝中证科创创业50ETF","k":"label"},
{"g":"line","c":67,"r":33,"t":"实时申购赎回信息","k":"muted"},{"g":"rval","c":77,"r":33,"t":"申购","k":"muted"},{"g":"rval","c":76,"r":33,"t":"赎回","k":"muted"},
{"g":"line","c":67,"r":34,"t":"笔数","k":"muted"},{"g":"rval","c":77,"r":34,"t":"0","k":"label"},{"g":"rval","c":76,"r":34,"t":"0","k":"label"},
{"g":"line","c":67,"r":35,"t":"金额","k":"muted"},{"g":"rval","c":77,"r":35,"t":"0","k":"label"},{"g":"rval","c":76,"r":35,"t":"0","k":"label"},
{"g":"line","c":67,"r":36,"t":"份额","k":"muted"},{"g":"rval","c":77,"r":36,"t":"0","k":"label"},{"g":"rval","c":76,"r":36,"t":"0","k":"label"},
{"g":"bold","c":78,"r":37,"t":"申赎清单","k":"bright"},{"g":"small","c":79,"r":37,"t":"...","k":"bright"},
{"g":"line","c":67,"r":38,"t":"最小申赎单位份额","k":"muted"},{"g":"rval","c":76,"r":38,"t":"200万","k":"label"},
{"g":"line","c":67,"r":39,"t":"现金替代比例上限","k":"muted"},{"g":"rval","c":76,"r":39,"t":"50%","k":"label"},
{"g":"line","c":67,"r":40,"t":"申购赎回允许情况","k":"muted"},{"g":"rval","c":76,"r":40,"t":"申购赎回皆允许","k":"label"},
{"g":"line","c":67,"r":41,"t":"T日预估现金差额","k":"muted"},{"g":"rval","c":76,"r":41,"t":"49.06元","k":"label"},
{"g":"line","c":67,"r":42,"t":"T-1日单位申赎资产","k":"muted"},{"g":"rval","c":76,"r":42,"t":"877390.06元","k":"label"},
{"g":"bold","c":78,"r":43,"t":"近5日净流入","k":"bright"},{"g":"boldr","c":80,"r":43,"t":"单位(万元)","k":"bright"},
{"g":"line","c":61,"r":44,"t":"天数","k":"muted"},{"g":"rval","c":81,"r":44,"t":"净流天","k":"muted"},{"g":"rval","c":82,"r":44,"t":"净流额","k":"muted"},{"g":"rval","c":76,"r":44,"t":"净流率","k":"muted"},
{"g":"tab","c":83,"r":45,"t":"5","k":"muted"},{"g":"rval","c":81,"r":45,"t":"3","k":"up"},{"g":"rval","c":82,"r":45,"t":"529","k":"up"},{"g":"rval","c":76,"r":45,"t":"0.65%","k":"up"},
{"g":"tab","c":83,"r":46,"t":"10","k":"muted"},{"g":"rval","c":81,"r":46,"t":"4","k":"up"},{"g":"rval","c":82,"r":46,"t":"913","k":"up"},{"g":"rval","c":76,"r":46,"t":"0.74%","k":"up"},
{"g":"axis","c":85,"r":47,"t":"0.540","k":"muted"},{"g":"axis","c":85,"r":48,"t":"78万","k":"muted"},{"g":"axis","c":85,"r":49,"t":"0","k":"muted"},{"g":"tab","c":84,"r":50,"t":"»","k":"muted"}
]
},
"layer":[
{
"encoding":{
"x":{"field":"a","type":"quantitative","axis":null,"scale":{"zero":false,"nice":false,"domain":[0,1,2,3,4,5,6,7,8,9,10,11,12,13,14,15,16,17,18,19,20,21,22,23,24,25,26,27,28,29,30,31,32,33,34,35,36,37,38],"range":[0,22,1084,1149,1161,1488,1491,302,328,1150,1160,62,102,137,172,215,259,355,382,422,886,910,959,1023,1062,1098,1123,937,1107,1439,1451,1457,1469,1475,1487,1131,1143,1127,1147]}},
"y":{"field":"t","type":"quantitative","axis":null,"scale":{"zero":false,"nice":false,"domain":[0,1,2,3,4,5,6,7,8,9,10,11,12,13,14,15,16,17,18,19,20,21,22,23,24,25,26,27,28,29,30],"range":[0,22,63,355,376,587,604,91,161,251,345,412,502,592,68,90,92,187,327,547,59,265,370,1,21,55,67,48,60,24,40]}}
},
"layer":[
{"data":{"values":[{"a":7,"b":8,"t":23,"u":24,"k":"hl"},{"a":0,"b":1,"t":7,"u":8,"k":"hl"},{"a":9,"b":10,"t":21,"u":22,"k":"handle"},{"a":29,"b":30,"t":25,"u":26,"k":"tool"},{"a":31,"b":32,"t":25,"u":26,"k":"tool"},{"a":33,"b":34,"t":25,"u":26,"k":"tool"},{"a":35,"b":36,"t":27,"u":28,"k":"lock"},{"a":37,"b":38,"t":29,"u":30,"k":"handle"}]},
"mark":{"type":"rect"},
"encoding":{"x2":{"field":"b"},"y2":{"field":"u"},"color":{"field":"k","type":"nominal","legend":null,"scale":{"domain":["hl","handle","tool","lock"],"range":["#5c5f66","#26292f","#2b3d49","#f0b13c"]}}}},
{"data":{"values":[{"a":1,"b":3,"t":2},{"a":1,"b":3,"t":3},{"a":1,"b":3,"t":4},{"a":1,"b":3,"t":5},{"a":4,"b":5,"t":14},{"a":4,"b":5,"t":15},{"a":4,"b":5,"t":16},{"a":4,"b":5,"t":17},{"a":4,"b":5,"t":18},{"a":4,"b":5,"t":19}]},
"mark":{"type":"rule","color":"#2c2f36","strokeWidth":1.5},
"encoding":{"x2":{"field":"b"}}},
{"data":{"values":[{"a":27,"b":28,"t":20}]},
"mark":{"type":"rule","color":"#c8c8c8","strokeWidth":1},
"encoding":{"x2":{"field":"b"}}},
{"data":{"values":[{"a":2,"t":2,"u":6}]},
"mark":{"type":"rule","color":"#2c2f36","strokeWidth":1.5},
"encoding":{"y2":{"field":"u"}}},
{"data":{"values":[{"a":1,"b":3,"t":1},{"a":0,"b":1,"t":7},{"a":0,"b":1,"t":8},{"a":0,"b":1,"t":9},{"a":0,"b":1,"t":10},{"a":0,"b":1,"t":11},{"a":0,"b":1,"t":12},{"a":0,"b":1,"t":13}]},
"mark":{"type":"rule","color":"#000000","strokeWidth":1.5},
"encoding":{"x2":{"field":"b"}}},
{"data":{"values":[{"a":1,"t":0,"u":6},{"a":3,"t":0,"u":6},{"a":4,"t":0,"u":6},{"a":11,"t":0,"u":1},{"a":12,"t":0,"u":1},{"a":13,"t":0,"u":1},{"a":14,"t":0,"u":1},{"a":15,"t":0,"u":1},{"a":16,"t":0,"u":1},{"a":7,"t":0,"u":1},{"a":8,"t":0,"u":1},{"a":17,"t":0,"u":1},{"a":18,"t":0,"u":1},{"a":19,"t":0,"u":1},{"a":20,"t":0,"u":1},{"a":21,"t":0,"u":1},{"a":22,"t":0,"u":1},{"a":23,"t":0,"u":1},{"a":24,"t":0,"u":1},{"a":25,"t":0,"u":1},{"a":26,"t":0,"u":1}]},
"mark":{"type":"rule","color":"#000000","strokeWidth":1.5},
"encoding":{"y2":{"field":"u"}}}
]
},
{"data":{"values":[{"p":0.44},{"p":0.46},{"p":0.48},{"p":0.5},{"p":0.52},{"p":0.54}]},
"mark":{"type":"rule","color":"#3d4047","strokeDash":[1,3.3]},
"encoding":{
"x":{"datum":-0.54,"type":"quantitative","axis":null,"scale":{"zero":false,"nice":false,"domain":[-1,100],"range":[16.71,1187.3]}},
"x2":{"datum":91.08},
"y":{"field":"p","type":"quantitative","scale":{"zero":false,"nice":false,"domain":[0.43,0.55],"range":[366.25,39.25]},"axis":{"orient":"right","offset":-407,"values":[0.44,0.46,0.48,0.5,0.52],"format":".3f","grid":false,"domain":false,"tickColor":"#55585f","tickSize":5,"labelColor":"#9aa0a6","labelFontSize":12,"labelPadding":1,"title":null}}}},
{"data":{"values":[{"v":15.6},{"v":31.2},{"v":46.8},{"v":62.4}]},
"mark":{"type":"rule","color":"#3d4047","strokeDash":[1,3.3]},
"encoding":{
"x":{"datum":-0.54,"type":"quantitative","axis":null,"scale":{"zero":false,"nice":false,"domain":[-1,100],"range":[16.71,1187.3]}},
"x2":{"datum":91.08},
"y":{"field":"v","type":"quantitative","scale":{"zero":false,"nice":false,"domain":[-6.75,78],"range":[604,378]},"axis":{"orient":"right","offset":-407,"values":[15.6,31.2,46.8,62.4],"labelExpr":"round(datum.value)+'万'","grid":false,"domain":false,"tickColor":"#55585f","tickSize":5,"labelColor":"#9aa0a6","labelFontSize":12,"labelPadding":1,"title":null}}}},
{
"encoding":{"x":{"field":"d","type":"quantitative","axis":null,"scale":{"zero":false,"nice":false,"padding":0,"domain":[-1,100],"range":[16.71,1187.3]}}},
"resolve":{"scale":{"color":"independent"}},
"layer":[
{"data":{"values":[{"d":19},{"d":39},{"d":58},{"d":81}]},
"mark":{"type":"rule","color":"#3d4047","strokeDash":[1,3.3]},
"encoding":{"y":{"datum":0.4341,"type":"quantitative","axis":null,"scale":{"zero":false,"nice":false,"domain":[0.43,0.55],"range":[366.25,39.25]}},"y2":{"datum":0.5413}}},
{"data":{"name":"days"},
"mark":{"type":"rule","strokeWidth":1.2},
"encoding":{
"y":{"field":"high","type":"quantitative","axis":null,"scale":{"zero":false,"nice":false,"domain":[0.43,0.55],"range":[366.25,39.25]}},"y2":{"field":"low"},
"color":{"field":"kind","type":"nominal","legend":null,"scale":{"domain":["up","down","flat"],"range":["#e60000","#38d3d3","#ffffff"]}}}},
{"data":{"name":"days"},
"transform":[{"filter":"datum.kind == 'down'"}],
"mark":{"type":"bar","width":9,"color":"#38d3d3"},
"encoding":{"y":{"field":"open","type":"quantitative","axis":null,"scale":{"zero":false,"nice":false,"domain":[0.43,0.55],"range":[366.25,39.25]}},"y2":{"field":"close"}}},
{"data":{"name":"days"},
"transform":[{"filter":"datum.kind == 'up'"}],
"mark":{"type":"bar","width":8,"fill":"#10131a","stroke":"#e60000","strokeWidth":1.2},
"encoding":{"y":{"field":"open","type":"quantitative","axis":null,"scale":{"zero":false,"nice":false,"domain":[0.43,0.55],"range":[366.25,39.25]}},"y2":{"field":"close"}}},
{"data":{"name":"days"},
"transform":[{"filter":"datum.kind == 'flat'"}],
"mark":{"type":"bar","width":8,"fill":"#ffffff","stroke":"#ffffff","strokeWidth":1},
"encoding":{"y":{"field":"open","type":"quantitative","axis":null,"scale":{"zero":false,"nice":false,"domain":[0.43,0.55],"range":[366.25,39.25]}},"y2":{"field":"close"}}},
{"data":{"name":"days"},
"transform":[{"fold":["ma250","ma120","ma60","ma20","ma10","ma5"],"as":["line","price"]}],
"mark":{"type":"line","strokeWidth":1},
"encoding":{
"y":{"field":"price","type":"quantitative","axis":null,"scale":{"zero":false,"nice":false,"domain":[0.43,0.55],"range":[366.25,39.25]}},
"color":{"field":"line","type":"nominal","legend":null,"scale":{"domain":["ma5","ma10","ma20","ma60","ma120","ma250"],"range":["#ff9c00","#ffff00","#ff00ff","#00b000","#66ffff","#ff8080"]}}}},
{"data":{"values":[{"d":19,"price":0.501,"text":"0.501","side":"up"},{"d":62,"price":0.438,"text":"0.438","side":"down"}]},
"mark":{"type":"text","align":"right","dx":-17,"dy":-1,"fontSize":12},
"encoding":{
"y":{"field":"price","type":"quantitative","axis":null,"scale":{"zero":false,"nice":false,"domain":[0.43,0.55],"range":[366.25,39.25]}},
"text":{"field":"text"},
"color":{"field":"side","type":"nominal","legend":null,"scale":{"domain":["up","down"],"range":["#ff3b3b","#16c257"]}}}},
{"data":{"values":[{"d":19,"price":0.501},{"d":62,"price":0.438}]},
"mark":{"type":"text","text":"→","font":"DejaVu Sans","align":"right","dy":-1,"fontSize":18,"color":"#c8c8c8"},
"encoding":{"y":{"field":"price","type":"quantitative","axis":null,"scale":{"zero":false,"nice":false,"domain":[0.43,0.55],"range":[366.25,39.25]}}}}
]
},
{
"encoding":{"x":{"field":"d","type":"quantitative","axis":null,"scale":{"zero":false,"nice":false,"padding":0,"domain":[-1,100],"range":[16.71,1187.3]}}},
"resolve":{"scale":{"color":"independent"}},
"layer":[
{"data":{"values":[{"d":19},{"d":39},{"d":58},{"d":81}]},
"mark":{"type":"rule","color":"#3d4047","strokeDash":[1,3.3]},
"encoding":{"y":{"datum":0,"type":"quantitative","axis":null,"scale":{"zero":false,"nice":false,"domain":[-6.75,78],"range":[604,378]}},"y2":{"datum":78.8}}},
{"data":{"name":"days"},
"transform":[{"filter":"datum.volKind == 'down'"}],
"mark":{"type":"bar","width":9,"color":"#38d3d3"},
"encoding":{"y":{"field":"vol","type":"quantitative","axis":null,"scale":{"zero":false,"nice":false,"domain":[-6.75,78],"range":[604,378]}},"y2":{"datum":0}}},
{"data":{"name":"days"},
"transform":[{"filter":"datum.volKind == 'up'"}],
"mark":{"type":"bar","width":8,"fill":"#10131a","stroke":"#e60000","strokeWidth":1.2},
"encoding":{"y":{"field":"vol","type":"quantitative","axis":null,"scale":{"zero":false,"nice":false,"domain":[-6.75,78],"range":[604,378]}},"y2":{"datum":0}}},
{"data":{"name":"days"},
"transform":[{"fold":["v20","v10","v5"],"as":["line","value"]}],
"mark":{"type":"line","strokeWidth":1},
"encoding":{
"y":{"field":"value","type":"quantitative","axis":null,"scale":{"zero":false,"nice":false,"domain":[-6.75,78],"range":[604,378]}},
"color":{"field":"line","type":"nominal","legend":null,"scale":{"domain":["v5","v10","v20"],"range":["#ffffff","#ff9c00","#ff00ff"]}}}},
{"data":{"values":[{"d":2},{"d":7},{"d":12},{"d":17},{"d":24},{"d":29},{"d":34},{"d":44},{"d":48},{"d":53},{"d":63},{"d":68},{"d":73},{"d":78},{"d":83},{"d":88}]},
"mark":{"type":"rule","color":"#55585f"},
"encoding":{"y":{"datum":0,"type":"quantitative","axis":null,"scale":{"zero":false,"nice":false,"domain":[-6.75,78],"range":[604,378]}},"y2":{"datum":-1.9}}},
{"data":{"values":[{"d":0},{"d":19},{"d":39},{"d":58},{"d":81}]},
"mark":{"type":"rule","color":"#55585f"},
"encoding":{"y":{"datum":0,"type":"quantitative","axis":null,"scale":{"zero":false,"nice":false,"domain":[-6.75,78],"range":[604,378]}},"y2":{"datum":-6.75}}},
{"data":{"values":[{"d":0,"month":"24-04"},{"d":19,"month":"24-05"},{"d":39,"month":"24-06"},{"d":58,"month":"24-07"},{"d":81,"month":"24-08"}]},
"mark":{"type":"text","align":"left","dx":2,"fontSize":12.5,"color":"#9aa0a6"},
"encoding":{"y":{"datum":-3.9,"type":"quantitative","axis":null,"scale":{"zero":false,"nice":false,"domain":[-6.75,78],"range":[604,378]}},"text":{"field":"month"}}}
]
},
{
"data":{"values":[{"day":"8-6","net":0},{"day":"8-7","net":0},{"day":"8-8","net":88},{"day":"8-9","net":177},{"day":"8-12","net":264}]},
"encoding":{
"x":{"field":"day","type":"nominal","sort":null,"scale":{"type":"band","domain":["8-6","8-7","8-8","8-9","8-12"],"range":[1164,1484],"paddingInner":0.5,"paddingOuter":0.25},"axis":{"orient":"bottom","offset":-76,"domain":false,"ticks":false,"labelAngle":0,"labelPadding":0,"labelColor":"#b4b8bc","labelFontSize":13,"labelBaseline":"top","title":null}}
},
"layer":[
{"transform":[{"filter":"datum.net > 0"}],
"mark":{"type":"bar","color":"#ff2d37"},
"encoding":{"y":{"field":"net","type":"quantitative","axis":null,"scale":{"zero":true,"nice":false,"domain":[0,300],"range":[496.7,368.3]}}}},
{"transform":[{"filter":"datum.net == 0"}],
"mark":{"type":"bar","fill":"#16c257","stroke":"#16c257","strokeWidth":1},
"encoding":{"y":{"field":"net","type":"quantitative","axis":null,"scale":{"zero":true,"nice":false,"domain":[0,300],"range":[496.7,368.3]}}}},
{"transform":[{"filter":"datum.net > 0"}],
"mark":{"type":"text","dy":-11,"fontSize":13,"color":"#ff2d37"},
"encoding":{"y":{"field":"net","type":"quantitative","axis":null,"scale":{"zero":true,"nice":false,"domain":[0,300],"range":[496.7,368.3]}},"text":{"field":"net"}}},
{"transform":[{"filter":"datum.net == 0"}],
"mark":{"type":"text","dy":13,"fontSize":13,"color":"#16c257"},
"encoding":{"y":{"field":"net","type":"quantitative","axis":null,"scale":{"zero":true,"nice":false,"domain":[0,300],"range":[496.7,368.3]}},"text":{"field":"net"}}}
]
},
{
"data":{"name":"labels"},
"encoding":{
"x":{"field":"c","type":"quantitative","axis":null,"scale":{"zero":false,"nice":false,"domain":[0,1,2,3,4,5,6,7,8,9,10,11,12,13,14,15,16,17,18,19,20,21,22,23,24,25,26,27,28,29,30,31,32,33,34,35,36,37,38,39,40,41,42,43,44,45,46,47,48,49,50,51,52,53,54,55,56,57,58,59,60,61,62,63,64,65,66,67,68,69,70,71,72,73,74,75,76,77,78,79,80,81,82,83,84,85,86,87,88,89,90,91],"range":[10,41,81,120,154,194,237,280,314,341,368,402,860,897,934,991,1042,1080,1113,1137,25,191,278,294,339,355,461,477,522,536,584,599,645,660,707,722,782,797,853,866,916,932,24,57,98,138,179,218,261,300,342,388,430,476,937,1115,31,42,104,178,256,1169,1284,1486,1166,1420,1487,1167,1196,1229,1285,1404,1428,1445,1463,1481,1480,1370,1164,1468,1476,1334,1406,1182,1156,1090,91,172,252,333,421,508]}},
"y":{"field":"r","type":"quantitative","axis":null,"scale":{"zero":false,"nice":false,"domain":[0,1,2,3,4,5,6,7,8,9,10,11,12,13,14,15,16,17,18,19,20,21,22,23,24,25,26,27,28,29,30,31,32,33,34,35,36,37,38,39,40,41,42,43,44,45,46,47,48,49,50],"range":[35,55,75,109,128,147,180,199,218,237,269,289,309,329,359,378,398,432,452,471,489,521,540,559,579,11,32,53,366,15,40,61,80,104,127,150,173,198,220,243,266,289,312,339,561,585,608,72,385,578,318]}},
"text":{"field":"t"},
"color":{"field":"k","type":"nominal","legend":null,"scale":{"domain":["label","bright","muted","down","up","tool","ma5","ma10","ma20","ma60","ma120","ma250"],"range":["#d6d6d6","#f2f2f2","#9aa0a6","#16c257","#ff2d37","#39c5ea","#ff9c00","#ffff00","#ff00ff","#00c000","#66ffff","#ff8080"]}}
},
"layer":[
{"transform":[{"filter":"datum.g == 'side'"}],"mark":{"type":"text","fontSize":14,"align":"center"}},
{"transform":[{"filter":"datum.g == 'tab'"}],"mark":{"type":"text","fontSize":13,"align":"center"}},
{"transform":[{"filter":"datum.g == 'arrow'"}],"mark":{"type":"text","fontSize":12,"align":"center","font":"DejaVu Sans"}},
{"transform":[{"filter":"datum.g == 'small'"}],"mark":{"type":"text","fontSize":9,"fontWeight":"bold","align":"center"}},
{"transform":[{"filter":"datum.g == 'info'"}],"mark":{"type":"text","fontSize":16,"align":"center","font":"DejaVu Sans"}},
{"transform":[{"filter":"datum.g == 'line'"}],"mark":{"type":"text","fontSize":13,"align":"left"}},
{"transform":[{"filter":"datum.g == 'mav'"}],"mark":{"type":"text","fontSize":12,"align":"left"}},
{"transform":[{"filter":"datum.g == 'range'"}],"mark":{"type":"text","fontSize":12.5,"align":"left"}},
{"transform":[{"filter":"datum.g == 'rval'"}],"mark":{"type":"text","fontSize":13,"align":"right"}},
{"transform":[{"filter":"datum.g == 'bold'"}],"mark":{"type":"text","fontSize":13,"fontWeight":"bold","align":"left"}},
{"transform":[{"filter":"datum.g == 'boldr'"}],"mark":{"type":"text","fontSize":13,"fontWeight":"bold","align":"right"}},
{"transform":[{"filter":"datum.g == 'title'"}],"mark":{"type":"text","fontSize":17,"fontWeight":"bold","align":"left"}},
{"transform":[{"filter":"datum.g == 'code'"}],"mark":{"type":"text","fontSize":21,"align":"right"}},
{"transform":[{"filter":"datum.g == 'big'"}],"mark":{"type":"text","fontSize":34.5,"fontWeight":"bold","align":"left"}},
{"transform":[{"filter":"datum.g == 'quote'"}],"mark":{"type":"text","fontSize":16,"fontWeight":"bold","align":"right"}},
{"transform":[{"filter":"datum.g == 'axis'"}],"mark":{"type":"text","fontSize":12,"align":"left"}}
]
}
],
"resolve":{"scale":{"x":"independent","y":"independent","color":"independent"}}
}
